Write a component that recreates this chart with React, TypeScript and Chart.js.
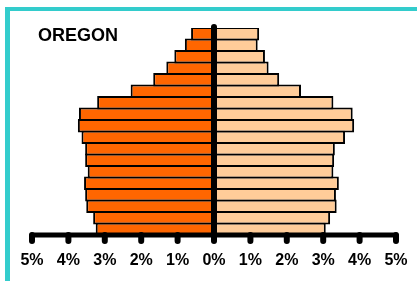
import React, { useEffect, useRef } from "react";
import { Chart, registerables } from "chart.js";

Chart.register(...registerables);

// Age groups from youngest (bottom) to oldest (top)
const ageGroups = [
  "0-4", "5-9", "10-14", "15-19", "20-24", "25-29", "30-34", "35-39", "40-44",
  "45-49", "50-54", "55-59", "60-64", "65-69", "70-74", "75-79", "80-84", "85+",
];
// Percent of population (male on the left, female on the right)
const maleValues = [
  3.25, 3.32, 3.51, 3.54, 3.57, 3.47, 3.54, 3.54, 3.64,
  3.74, 3.71, 3.21, 2.29, 1.67, 1.31, 1.09, 0.8, 0.63,
];
const femaleValues = [
  3.07, 3.19, 3.37, 3.35, 3.43, 3.28, 3.3, 3.32, 3.6,
  3.85, 3.81, 3.28, 2.39, 1.79, 1.5, 1.4, 1.2, 1.24,
];
const tickValues = [-5, -4, -3, -2, -1, 0, 1, 2, 3, 4, 5];
const title = "OREGON";

const decorPlugin = {
  id: "pyramidDecor",
  afterDatasetsDraw(chart: any) {
    const { ctx, chartArea, scales } = chart;
    const x = scales.x;
    const x0 = x.getPixelForValue(0);
    ctx.save();
    ctx.strokeStyle = "#000";
    ctx.lineCap = "round";
    // center spine
    ctx.lineWidth = 6;
    ctx.beginPath();
    ctx.moveTo(x0, chartArea.top - 1);
    ctx.lineTo(x0, chartArea.bottom);
    ctx.stroke();
    // horizontal axis
    ctx.lineWidth = 5;
    ctx.beginPath();
    ctx.moveTo(x.getPixelForValue(tickValues[0]), chartArea.bottom);
    ctx.lineTo(x.getPixelForValue(tickValues[tickValues.length - 1]), chartArea.bottom);
    ctx.stroke();
    // tick dots
    ctx.lineWidth = 6;
    tickValues.forEach((v) => {
      const px = x.getPixelForValue(v);
      ctx.beginPath();
      ctx.moveTo(px, chartArea.bottom);
      ctx.lineTo(px, chartArea.bottom + 6);
      ctx.stroke();
    });
    ctx.restore();
  },
};

export default function App() {
  const canvasRef = useRef<HTMLCanvasElement>(null);

  useEffect(() => {
    const canvas = canvasRef.current;
    if (!canvas) return;
    const chart = new Chart(canvas, {
      type: "bar",
      data: {
        labels: ageGroups,
        datasets: [
          {
            label: "Male",
            data: maleValues.map((v) => -v),
            backgroundColor: "#FF6600",
            borderColor: "#000",
            borderWidth: 2,
            borderSkipped: false,
            barPercentage: 1.17,
            categoryPercentage: 1,
          },
          {
            label: "Female",
            data: femaleValues,
            backgroundColor: "#FFCC99",
            borderColor: "#000",
            borderWidth: 2,
            borderSkipped: false,
            barPercentage: 1.17,
            categoryPercentage: 1,
          },
        ],
      },
      options: {
        indexAxis: "y",
        responsive: false,
        animation: false,
        layout: { padding: { left: 32, right: 21, top: 28, bottom: 0 } },
        plugins: {
          legend: { display: false },
          tooltip: { enabled: false },
          title: { display: false },
        },
        scales: {
          x: {
            type: "linear",
            min: -5,
            max: 5,
            stacked: true,
            grid: { display: false, drawTicks: true, tickLength: 8 },
            border: { display: false },
            afterFit: (scale: any) => {
              scale.height = 46;
            },
            afterBuildTicks: (scale: any) => {
              scale.ticks = tickValues.map((v) => ({ value: v }));
            },
            ticks: {
              padding: 8,
              maxRotation: 0,
              autoSkip: false,
              color: "#000",
              font: { family: "'Liberation Sans', Arial, sans-serif", weight: "bold", size: 16 },
              callback: (v: any) => Math.abs(Number(v)) + "%",
            },
          },
          y: {
            type: "category",
            stacked: true,
            reverse: true,
            display: false,
            grid: { display: false },
          },
        },
      },
      plugins: [decorPlugin],
    });
    return () => chart.destroy();
  }, []);

  return (
    <div
      style={{
        position: "absolute",
        left: 0,
        top: 0,
        width: 417,
        height: 281,
        overflow: "hidden",
        background: "#fff",
      }}
    >
      <div
        style={{
          position: "absolute",
          left: 5,
          top: 7,
          width: 412,
          height: 274,
          boxSizing: "border-box",
          borderLeft: "5px solid #33CCCC",
          borderTop: "4px solid #33CCCC",
        }}
      />
      <canvas
        ref={canvasRef}
        width={417}
        height={281}
        style={{ position: "absolute", left: 0, top: 0, width: 417, height: 281 }}
      />
      <div
        style={{
          position: "absolute",
          left: 38,
          top: 26,
          fontFamily: "'Liberation Sans', Arial, sans-serif",
          fontWeight: "bold",
          fontSize: 18,
          lineHeight: "18px",
          color: "#000",
          whiteSpace: "nowrap",
        }}
      >
        {title}
      </div>
    </div>
  );
}
